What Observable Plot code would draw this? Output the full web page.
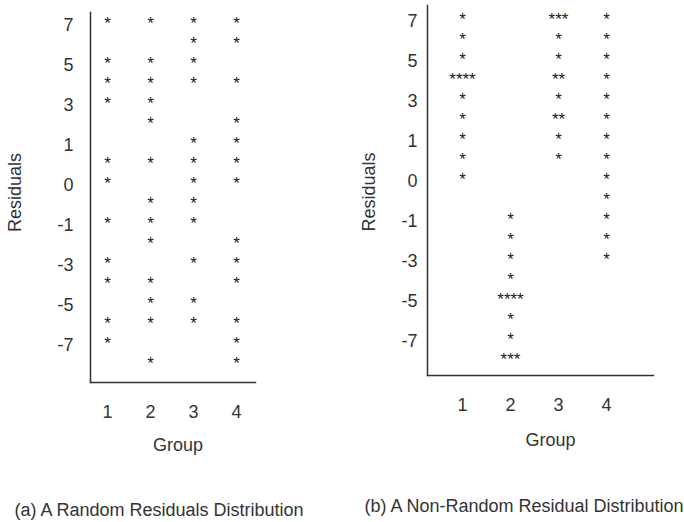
<!DOCTYPE html>
<html>
<head>
<meta charset="utf-8">
<script src="https://cdn.jsdelivr.net/npm/d3@7"></script>
<script src="https://cdn.jsdelivr.net/npm/@observablehq/plot@0.6"></script>
<style>
  html, body { margin: 0; padding: 0; background: #fff; }
  #root { position: relative; width: 684px; height: 522px; overflow: hidden;
          font-family: "Liberation Sans", Arial, Helvetica, sans-serif; color: #333; }
  .panel { position: absolute; top: 0; }
  .cap { position: absolute; font-size: 18px; line-height: 18px; text-align: center; white-space: nowrap; color: #333; }
</style>
</head>
<body>
<div id="root">
  <div id="pa" class="panel" style="left:0px"></div>
  <div id="pb" class="panel" style="left:340px"></div>
  <div class="cap" id="capA" style="left:0px; width:318px; top:501px;"></div>
  <div class="cap" id="capB" style="left:364px; width:320px; top:497px;"></div>
</div>
<script>
// ---- data ----
const levels = [7, 6, 5, 4, 3, 2, 1, 0.5, 0, -0.5, -1, -2, -3, -4, -5, -6, -7, -8];
const tickLevels = [7, 5, 3, 1, 0, -1, -3, -5, -7];
const groups = [1, 2, 3, 4];
const yTitle = "Residuals";
const xTitle = "Group";
const captionA = "(a) A Random Residuals Distribution";
const captionB = "(b) A Non-Random Residual Distribution";

// (a) random residuals: residual level of each asterisk, per group
const randomG1 = [7, 5, 4, 3, 0.5, 0, -1, -3, -4, -6, -7];
const randomG2 = [7, 5, 4, 3, 2, 0.5, -0.5, -1, -2, -4, -5, -6, -8];
const randomG3 = [7, 6, 5, 4, 1, 0.5, 0, -0.5, -1, -3, -5, -6];
const randomG4 = [7, 6, 4, 2, 1, 0.5, 0, -2, -3, -4, -6, -7, -8];

// (b) non-random residuals: [level, number of asterisks], per group
const nonRandomG1 = [[7,1],[6,1],[5,1],[4,4],[3,1],[2,1],[1,1],[0.5,1],[0,1]];
const nonRandomG2 = [[-1,1],[-2,1],[-3,1],[-4,1],[-5,4],[-6,1],[-7,1],[-8,3]];
const nonRandomG3 = [[7,3],[6,1],[5,1],[4,2],[3,1],[2,2],[1,1],[0.5,1]];
const nonRandomG4 = [[7,1],[6,1],[5,1],[4,1],[3,1],[2,1],[1,1],[0.5,1],[0,1],[-0.5,1],[-1,1],[-2,1],[-3,1]];

// ---- tables ----
const tableA = [randomG1, randomG2, randomG3, randomG4]
  .flatMap((arr, i) => arr.map(v => ({group: groups[i], level: v, n: 1})));
const tableB = [nonRandomG1, nonRandomG2, nonRandomG3, nonRandomG4]
  .flatMap((arr, i) => arr.map(([v, n]) => ({group: groups[i], level: v, n})));

const FONT = '"Liberation Sans", Arial, Helvetica, sans-serif';

function panel(data, o) {
  return Plot.plot({
    width: o.width, height: 470,
    marginLeft: o.ml, marginRight: o.mr, marginTop: o.mt, marginBottom: o.mb,
    style: {fontFamily: FONT, fontSize: "18px", color: "#333", background: "transparent", overflow: "visible"},
    x: {type: "point", domain: groups, range: o.xr, padding: 0},
    y: {type: "point", domain: levels, range: o.yr, padding: 0},
    marks: [
      Plot.frame({anchor: "left", stroke: "#333", strokeWidth: 1.5}),
      Plot.frame({anchor: "bottom", stroke: "#333", strokeWidth: 1.5}),
      Plot.axisY({ticks: tickLevels, tickSize: 0, tickPadding: o.yPad, tickFormat: d => String(d), label: null, fontSize: 18, fill: "#333"}),
      Plot.axisX({ticks: groups, tickSize: 0, tickPadding: 23, tickFormat: d => String(d), label: null, fontSize: 18, fill: "#333"}),
      Plot.text(data, {x: "group", y: "level", text: d => "*".repeat(d.n), fontSize: 17, fill: "#1a1a1a", dy: -1.5}),
      Plot.text([yTitle], {frameAnchor: "left", textAnchor: "middle", rotate: -90, dx: o.ytDx, dy: o.ytDy, text: d => d, fontSize: 18, fill: "#333"}),
      Plot.text([xTitle], {frameAnchor: "bottom", textAnchor: "middle", dx: o.xtDx, dy: o.xtDy, text: d => d, fontSize: 18, fill: "#333"})
    ]
  });
}

const rowA = 20.44, rowB = 20.3;
document.getElementById("pa").appendChild(panel(tableA, {
  width: 342, ml: 90, mr: 87, mt: 12, mb: 88,
  xr: [106, 237], yr: [21.5, 21.5 + 17 * rowA],
  yPad: 17, ytDx: -75, ytDy: -5, xtDx: 5, xtDy: 68.2
}));
document.getElementById("pb").appendChild(panel(tableB, {
  width: 344, ml: 87, mr: 31, mt: 5, mb: 95,
  xr: [122, 266], yr: [18.5, 18.5 + 17 * rowB],
  yPad: 10, ytDx: -58.5, ytDy: 1.5, xtDx: 10, xtDy: 70.2
}));
document.getElementById("capA").textContent = captionA;
document.getElementById("capB").textContent = captionB;
</script>
</body>
</html>
